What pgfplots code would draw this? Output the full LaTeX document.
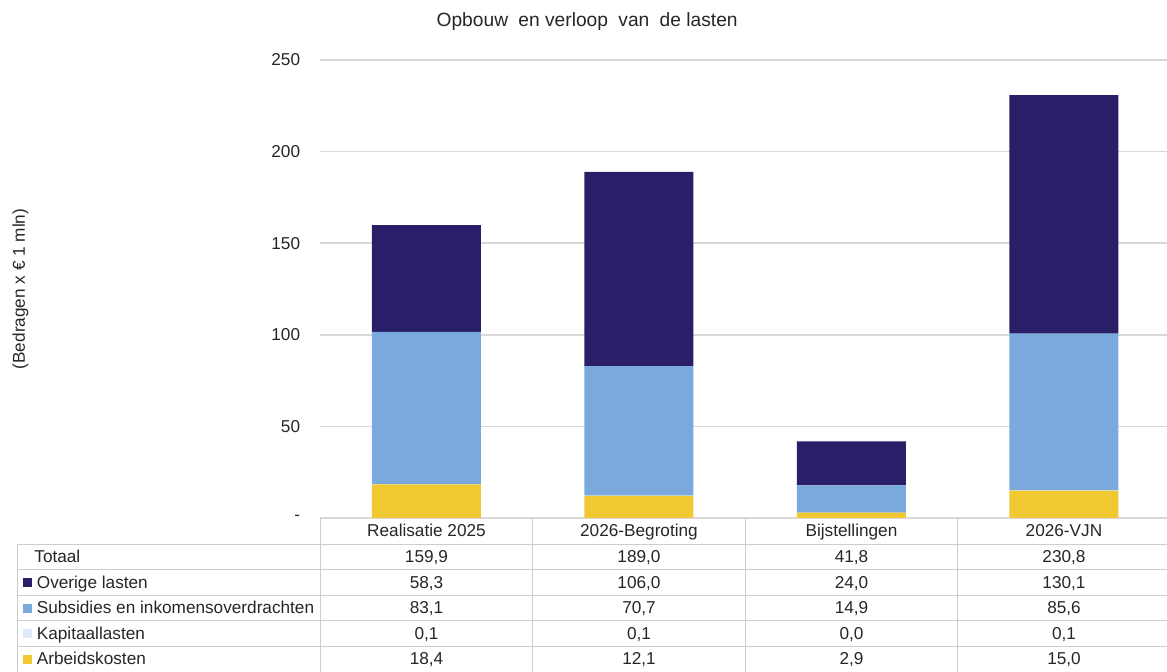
\documentclass[border=0pt]{standalone}
\usepackage{fontspec}
\setmainfont{Liberation Sans}
\usepackage{pgfplots}
\pgfplotsset{compat=1.18}
\definecolor{navy}{RGB}{40,31,104}
\definecolor{lblue}{RGB}{122,170,221}
\definecolor{vlblue}{RGB}{222,235,247}
\definecolor{ygold}{RGB}{240,200,50}
\definecolor{gridc}{RGB}{217,217,217}
\definecolor{tabc}{RGB}{205,205,205}
\definecolor{txt}{RGB}{38,38,38}
\newcommand{\tf}{\fontsize{8.6}{10.3}\selectfont}
\begin{document}
\tf
\begin{tikzpicture}
\useasboundingbox (0,0) rectangle (583.5pt,336pt);
\begin{axis}[
  at={(160.125pt,77pt)}, anchor=south west,
  scale only axis, width=423.375pt, height=229pt,
  xmin=-0.5, xmax=3.485, ymin=0, ymax=250,
  ybar stacked, bar width=54.5pt,
  axis line style={draw=none},
  major tick length=0pt,
  ytick={0,50,100,150,200,250},
  yticklabels={-,50,100,150,200,250},
  yticklabel style={font=\tf, text=txt, xshift=-7pt},
  xtick={0,1,2,3},
  xticklabels={Realisatie 2025, 2026-Begroting, Bijstellingen, 2026-VJN},
  xticklabel style={anchor=base, yshift=-9.5pt, font=\tf, text=txt},
  ymajorgrids, grid style={gridc, line width=0.75pt},
  clip=false,
  every axis title shift=0pt,
  title={Opbouw\hspace{2.5pt} en verloop\hspace{2.5pt} van\hspace{2.5pt} de lasten},
  title style={at={(rel axis cs:0.3152,1.083)}, anchor=center, font=\fontsize{9.6}{11}\selectfont, text=txt},
  ylabel={(Bedragen x € 1 mln)},
  every axis y label/.style={at={(rel axis cs:-0.3542,0.5)}, rotate=90, anchor=center, font=\tf, text=txt},
]
\addplot[fill=ygold, draw=none] coordinates {(0,18.4) (1,12.1) (2,2.9) (3,15.0)};
\addplot[fill=vlblue, draw=none] coordinates {(0,0.1) (1,0.1) (2,0.0) (3,0.1)};
\addplot[fill=lblue, draw=none] coordinates {(0,83.1) (1,70.7) (2,14.9) (3,85.6)};
\addplot[fill=navy, draw=none] coordinates {(0,58.3) (1,106.0) (2,24.0) (3,130.1)};
\end{axis}
\begin{scope}[x=0.5pt, y=-0.5pt, shift={(0pt,336pt)}]
  \foreach \y in {544.1,569.7,595.3,620.9,646.5}
    \draw[tabc, line width=0.5pt] (17,\y) -- (1167,\y);
  \draw[tabc, line width=0.5pt] (17,544.1) -- (17,672);
  \foreach \x in {320.25,532.75,745.25,957.75}
    \draw[tabc, line width=0.5pt] (\x,518.5) -- (\x,672);
  % row labels
  \node[anchor=base west, inner sep=0, text=txt] at (34,562.6) {Totaal};
  \node[anchor=base west, inner sep=0, text=txt] at (36.5,588.2) {Overige lasten};
  \node[anchor=base west, inner sep=0, text=txt] at (36.5,613.8) {Subsidies en inkomensoverdrachten};
  \node[anchor=base west, inner sep=0, text=txt] at (36.5,639.4) {Kapitaallasten};
  \node[anchor=base west, inner sep=0, text=txt] at (36.5,665.0) {Arbeidskosten};
  % legend keys
  \fill[navy] (23,578) rectangle (32,587);
  \fill[lblue] (23,603.6) rectangle (32,612.6);
  \fill[vlblue] (23,629.2) rectangle (32,638.2);
  \fill[ygold] (23,654.8) rectangle (32,663.8);
  % values
  \foreach \x/\a/\b/\c/\d/\e in {426.5/{159,9}/{58,3}/{83,1}/{0,1}/{18,4}, 639/{189,0}/{106,0}/{70,7}/{0,1}/{12,1}, 851.5/{41,8}/{24,0}/{14,9}/{0,0}/{2,9}, 1064/{230,8}/{130,1}/{85,6}/{0,1}/{15,0}}{
    \node[anchor=base, inner sep=0, text=txt] at (\x,562.6) {\a};
    \node[anchor=base, inner sep=0, text=txt] at (\x,588.2) {\b};
    \node[anchor=base, inner sep=0, text=txt] at (\x,613.8) {\c};
    \node[anchor=base, inner sep=0, text=txt] at (\x,639.4) {\d};
    \node[anchor=base, inner sep=0, text=txt] at (\x,665.0) {\e};
  }
\end{scope}
\end{tikzpicture}
\end{document}
